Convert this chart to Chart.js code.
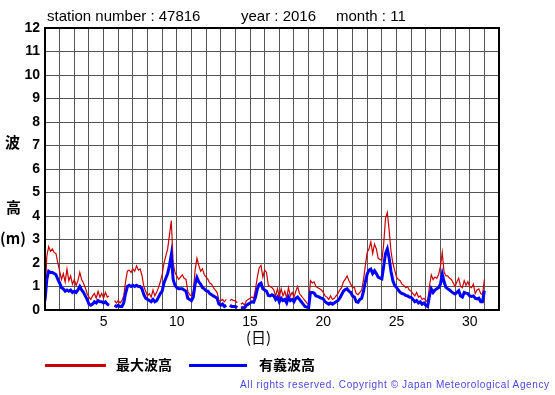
<!DOCTYPE html>
<html>
<head>
<meta charset="utf-8">
<script src="https://cdn.jsdelivr.net/npm/chart.js@4"></script>
<style>
  body { margin: 0; background: #fff; }
  #wrap { position: relative; width: 555px; height: 395px; font-family: "Liberation Sans", Arial, sans-serif; }
  #wrap div { position: absolute; white-space: nowrap; line-height: 1; }
  .ttl { top: 8px; font-size: 15px; color: #000; }
  .jp { font-family: "Noto Sans CJK JP", sans-serif; font-weight: bold; color: #000; }
  .leg { position: absolute; height: 3px; top: 364px; }
</style>
</head>
<body>
<div id="wrap">
  <canvas id="chartWave" width="555" height="395"></canvas>
  <div class="ttl" style="left:47px">station number : 47816</div>
  <div class="ttl" style="left:241px">year : 2016</div>
  <div class="ttl" style="left:336px">month : 11</div>
  <div class="jp" style="left:5px; top:134px; font-size:15px">波</div>
  <div class="jp" style="left:6px; top:199px; font-size:15px">高</div>
  <div class="jp" style="left:0px; top:230px; font-size:15px">(m)</div>
  <div class="jp" style="left:246px; top:329px; font-size:15px; font-weight:normal">(日)</div>
  <div class="leg" style="left:45px; width:61px; background:#c80000"></div>
  <div class="jp" style="left:116px; top:357px; font-size:14px">最大波高</div>
  <div class="leg" style="left:189px; width:58px; background:#0000ff"></div>
  <div class="jp" style="left:259px; top:357px; font-size:14px">有義波高</div>
  <div style="left:240px; top:380px; font-size:10px; letter-spacing:0.63px; color:#4646e6">All rights reserved. Copyright © Japan Meteorological Agency</div>
</div>
<script>
// 3-hourly readings, day 1 00h .. day 31 00h (m); null = missing
const maxWave = [
  0.6, 2.3, 2.7, 2.5, 2.6, 2.45, 2.4, 2.0,       // 1
  1.65, 1.3, 1.55, 1.2, 1.74, 1.25, 1.45, 1.1,   // 2
  1.3, 1.05, 1.25, 1.6, 1.3, 1.15, 0.95, 0.7,    // 3
  0.55, 0.45, 0.6, 0.7, 0.5, 0.8, 0.55, 0.7,     // 4
  0.5, 0.75, 0.55, 0.6, null, null, 0.4, 0.3,    // 5
  0.4, 0.3, 0.4, 0.6, 1.2, 1.65, 1.7, 1.6,       // 6
  1.75, 1.65, 1.88, 1.7, 1.75, 1.45, 1.0, 0.8,   // 7
  0.6, 0.7, 0.55, 0.85, 0.6, 0.75, 0.95, 1.2,    // 8
  1.5, 2.0, 2.3, 2.6, 3.2, 3.8, 2.0, 1.6,        // 9
  1.45, 1.3, 1.4, 1.5, 1.35, 1.3, 0.8, 0.65,     // 10
  0.6, 0.8, 1.7, 2.2, 1.9, 1.65, 1.75, 1.5,      // 11
  1.4, 1.3, 1.15, 1.1, 0.95, 0.85, 0.75, 0.4,    // 12
  0.4, 0.45, 0.35, 0.45, null, 0.4, 0.45, 0.4,   // 13
  0.4, 0.3, null, 0.25, 0.3, 0.2, 0.4, 0.45,     // 14
  0.5, 0.55, 0.5, 0.9, 1.4, 1.8, 1.9, 1.4,       // 15
  1.7, 1.6, 1.05, 1.0, 0.95, 0.85, 0.6, 0.9,     // 16
  0.55, 0.9, 0.6, 0.8, 0.5, 0.95, 0.6, 0.75,     // 17
  0.55, 0.8, 1.0, 0.7, 0.6, 0.5, 0.4, 0.3,       // 18
  0.25, 1.25, 1.15, 1.2, 1.0, 0.95, 0.9, 0.85,   // 19
  0.75, 0.6, 0.55, 0.45, 0.6, 0.45, 0.5, 0.6,    // 20
  0.7, 0.85, 0.95, 1.2, 1.3, 1.45, 1.25, 1.1,    // 21
  0.95, 0.95, 0.7, 0.65, 0.75, 0.85, 1.3, 1.9,   // 22
  2.45, 2.6, 2.9, 2.4, 2.8, 2.6, 2.2, 2.15,      // 23
  2.1, 2.8, 3.9, 4.15, 3.4, 2.5, 2.0, 1.7,       // 24
  1.4, 1.3, 1.25, 1.1, 1.05, 0.95, 1.0, 0.85,    // 25
  0.8, 0.7, 0.6, 0.75, 0.55, 0.6, 0.45, 0.5,     // 26
  0.4, 0.35, 1.0, 1.5, 1.3, 1.4, 1.35, 1.5,      // 27
  1.85, 2.45, 1.6, 1.45, 1.45, 1.35, 1.3, 1.15,  // 28
  1.0, 1.2, 1.35, 1.0, 0.95, 1.25, 1.05, 1.2,    // 29
  1.0, 0.95, 1.1, 0.7, 0.85, 0.9, 0.7, 0.65,     // 30
  1.3                                            // 31 00h
];
const sigWave = [
  0.4, 1.3, 1.65, 1.6, 1.6, 1.55, 1.5, 1.3,
  1.15, 0.95, 0.9, 0.8, 0.85, 0.8, 0.85, 0.75,
  0.8, 0.75, 0.85, 1.0, 0.85, 0.75, 0.6, 0.45,
  0.25, 0.2, 0.25, 0.35, 0.3, 0.4, 0.35, 0.35,
  0.3, 0.35, 0.25, 0.2, null, null, 0.2, 0.15,
  0.2, 0.15, 0.15, 0.3, 0.7, 1.0, 1.05, 1.0,
  1.05, 1.0, 1.05, 1.0, 1.0, 0.9, 0.65, 0.5,
  0.45, 0.4, 0.35, 0.45, 0.35, 0.4, 0.55, 0.7,
  0.8, 1.15, 1.35, 1.55, 1.9, 2.35, 1.3, 1.05,
  0.95, 0.9, 0.9, 0.9, 0.85, 0.8, 0.5, 0.45,
  0.4, 0.55, 1.1, 1.38, 1.2, 1.1, 0.95, 0.9,
  0.82, 0.8, 0.7, 0.65, 0.6, 0.55, 0.5, 0.25,
  0.2, 0.25, 0.15, 0.2, null, 0.2, 0.15, 0.15,
  0.15, 0.1, null, 0.1, 0.1, 0.1, 0.2, 0.25,
  0.3, 0.35, 0.33, 0.55, 0.9, 1.1, 1.15, 0.9,
  0.85, 0.8, 0.62, 0.6, 0.65, 0.6, 0.45, 0.55,
  0.35, 0.5, 0.4, 0.45, 0.3, 0.55, 0.4, 0.45,
  0.35, 0.5, 0.55, 0.45, 0.35, 0.25, 0.15, 0.12,
  0.1, 0.75, 0.75, 0.72, 0.6, 0.58, 0.54, 0.5,
  0.47, 0.35, 0.3, 0.25, 0.3, 0.25, 0.3, 0.35,
  0.4, 0.5, 0.65, 0.8, 0.87, 0.9, 0.8, 0.75,
  0.6, 0.55, 0.35, 0.33, 0.45, 0.5, 0.8, 1.2,
  1.53, 1.7, 1.74, 1.55, 1.67, 1.55, 1.4, 1.35,
  1.32, 1.85, 2.4, 2.6, 2.2, 1.65, 1.25, 1.05,
  0.96, 0.85, 0.75, 0.7, 0.68, 0.62, 0.6, 0.55,
  0.54, 0.45, 0.35, 0.4, 0.3, 0.35, 0.25, 0.3,
  0.2, 0.15, 0.6, 0.9, 0.75, 0.85, 0.9, 0.95,
  1.1, 1.53, 1.2, 0.96, 0.9, 0.85, 0.78, 0.72,
  0.68, 0.75, 0.82, 0.6, 0.55, 0.75, 0.72, 0.7,
  0.6, 0.58, 0.6, 0.5, 0.47, 0.5, 0.35, 0.35,
  0.82
];
const dayLabels = [5, 10, 15, 20, 25, 30];

// 8 readings per day starting at day 1 00h
const toPoints = arr => arr.map((v, i) => ({ x: 1 + i / 8, y: v }));

const frame = {
    id: 'frame',
    afterDatasetsDraw(chart) {
        const { ctx, chartArea: a } = chart;
        ctx.save();
        ctx.strokeStyle = '#000';
        ctx.lineWidth = 2;
        ctx.strokeRect(a.left, a.top, a.right - a.left, a.bottom - a.top);
        ctx.restore();
    }
};

const gridCfg = { color: '#555', lineWidth: 1, drawTicks: false };

new Chart(document.getElementById('chartWave'), {
    type: 'line',
    data: {
        datasets: [
            {
                label: '有義波高',
                data: toPoints(sigWave),
                borderColor: '#0000ff',
                borderWidth: 3,
                pointRadius: 0,
                order: 1
            },
            {
                label: '最大波高',
                data: toPoints(maxWave),
                borderColor: '#cc0000',
                borderWidth: 1.2,
                pointRadius: 0,
                order: 2
            }
        ]
    },
    options: {
        responsive: false,
        animation: false,
        spanGaps: false,
        layout: { padding: { top: 28, right: 56, left: 0, bottom: 0 } },
        plugins: {
            legend: { display: false },
            title: { display: false },
            tooltip: { enabled: false }
        },
        scales: {
            x: {
                type: 'linear',
                min: 1,
                max: 32,
                grid: gridCfg,
                border: { color: '#000', width: 2 },
                ticks: {
                    stepSize: 1,
                    autoSkip: false,
                    maxRotation: 0,
                    padding: 4,
                    color: '#000',
                    font: { family: '"Liberation Sans", Arial, sans-serif', size: 14 },
                    callback: v => dayLabels.includes(v) ? String(v) : ''
                },
                afterFit: s => { s.height = 85; }
            },
            y: {
                min: 0,
                max: 12,
                grid: gridCfg,
                border: { color: '#000', width: 2 },
                ticks: {
                    stepSize: 1,
                    padding: 5,
                    color: '#000',
                    font: { family: '"Liberation Sans", Arial, sans-serif', size: 14, weight: 'bold' }
                },
                afterFit: s => { s.width = 45; }
            }
        }
    },
    plugins: [frame]
});
</script>
</body>
</html>
